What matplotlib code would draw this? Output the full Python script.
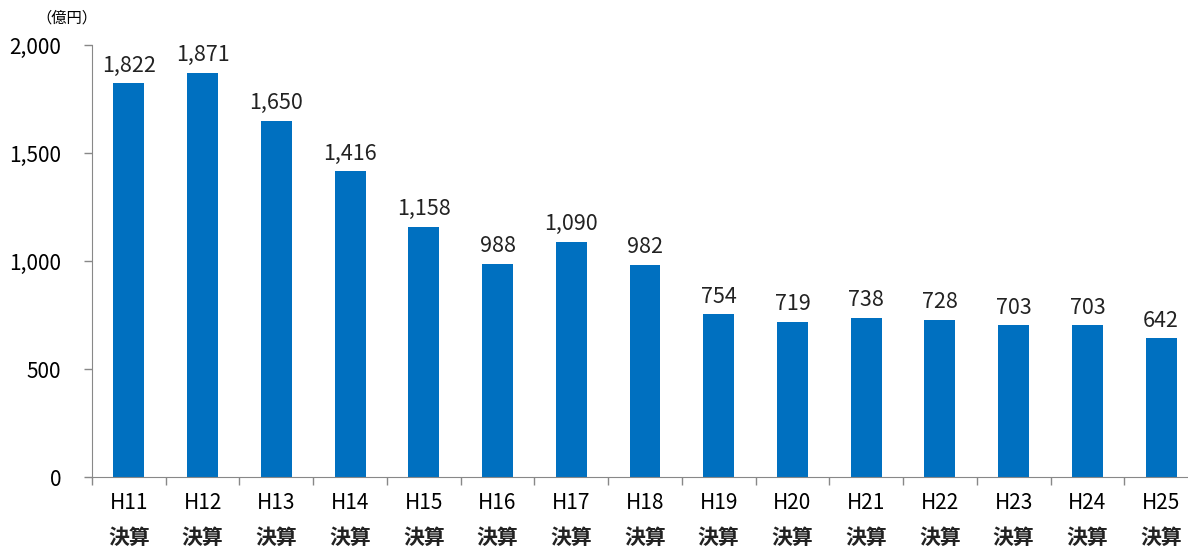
import numpy as np
import matplotlib.pyplot as plt
import matplotlib.transforms as mtransforms

plt.rcParams['font.family'] = ['Noto Sans CJK JP', 'DejaVu Sans']

years = ["H11", "H12", "H13", "H14", "H15", "H16", "H17", "H18",
         "H19", "H20", "H21", "H22", "H23", "H24", "H25"]
sub_label = "決算"
values = [1822, 1871, 1650, 1416, 1158, 988, 1090, 982,
          754, 719, 738, 728, 703, 703, 642]
yticks = [0, 500, 1000, 1500, 2000]

fig = plt.figure(figsize=(11.88, 5.51), dpi=100)
ax = fig.add_axes([92 / 1188, 74 / 551, 1106 / 1188, 432 / 551])

x = np.arange(len(years))
ax.bar(x, values, width=0.42, color="#0070C0")

for xi, v in zip(x, values):
    ax.text(xi, v + 30, "{:,}".format(v), ha="center", va="bottom",
            fontsize=15.5, color="#222222")

ax.set_xlim(-0.5, len(years) - 0.5)
ax.set_ylim(0, 2000)
ax.set_yticks(yticks)
ax.set_yticklabels(["{:,}".format(t) for t in yticks], fontsize=15)
ax.tick_params(axis="y", length=6, width=1, color="#888888", pad=16)

# labels at centres, tick marks between categories
ax.set_xticks(x)
ax.set_xticklabels(years, fontsize=15)
ax.tick_params(axis="x", which="major", length=0, pad=11)
ax.set_xticks(np.arange(-0.5, len(years), 1), minor=True)
ax.tick_params(axis="x", which="minor", length=6, width=1, color="#888888")

trans = mtransforms.blended_transform_factory(ax.transData, ax.transAxes)
for xi in x:
    ax.text(xi, -0.14, sub_label, transform=trans, ha="center", va="center",
            fontsize=15, fontweight="bold", color="#222222")

for s in ["top", "right"]:
    ax.spines[s].set_visible(False)
for s in ["left", "bottom"]:
    ax.spines[s].set_color("#888888")

fig.text(36 / 1188, 1 - 18 / 551, "（億円）", ha="left", va="center", fontsize=11)

fig.savefig("out.png", dpi=100)
